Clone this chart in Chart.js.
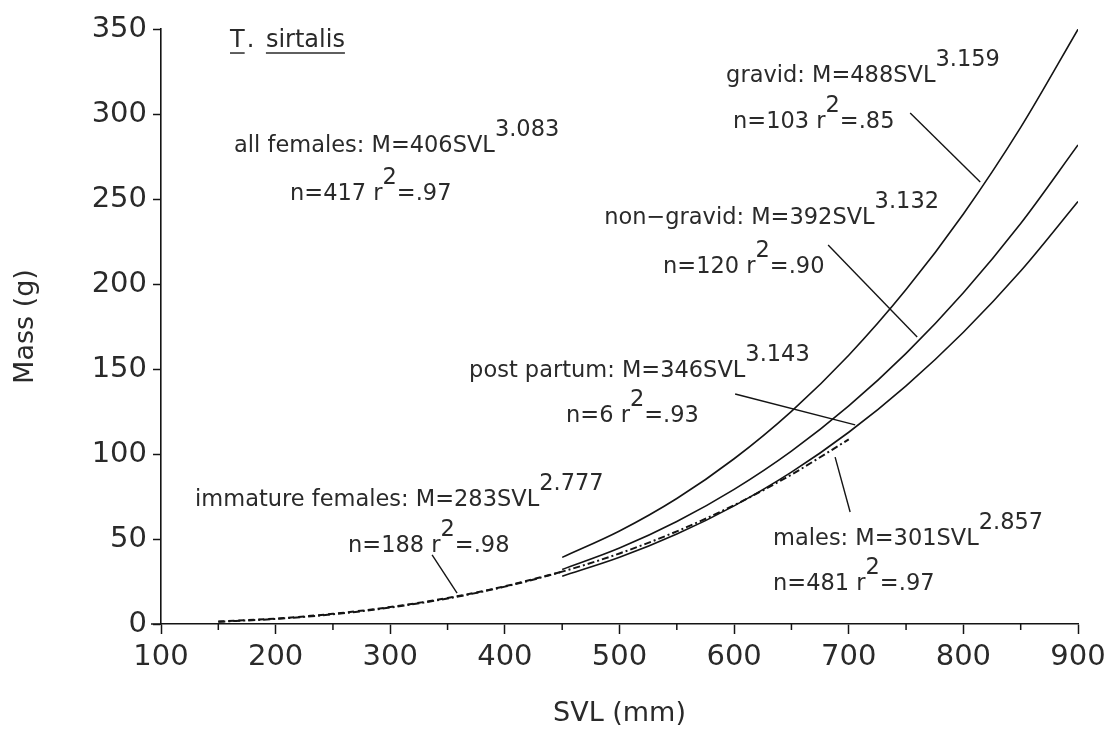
<!DOCTYPE html>
<html>
<head>
<meta charset="utf-8">
<script src="https://cdn.jsdelivr.net/npm/chart.js@4.4.1/dist/chart.umd.min.js"></script>
<style>
  html, body { margin: 0; padding: 0; background: #ffffff; }
  #wrap { width: 1114px; height: 736px; }
</style>
</head>
<body>
<div id="wrap"><canvas id="c" width="1114" height="736"></canvas></div>
<script>
// ---- data (SVL in mm, mass in g) ----
const gravidSVL   = [450, 500, 550, 600, 650, 700, 750, 800, 850, 900];
const gravidMass  = [39.2, 54.7, 73.8, 97.2, 125.1, 158.1, 196.7, 241.2, 292.1, 349.8];

const nonGravidSVL  = [450, 500, 550, 600, 650, 700, 750, 800, 850, 900];
const nonGravidMass = [32.1, 44.7, 60.3, 79.2, 101.7, 128.3, 159.2, 194.9, 235.6, 281.8];

const postPartumSVL  = [450, 500, 550, 600, 650, 700, 750, 800, 850, 900];
const postPartumMass = [28.1, 39.2, 52.9, 69.5, 89.3, 112.8, 140.1, 171.6, 207.6, 248.5];

const malesSVL  = [150, 200, 250, 300, 350, 400, 450, 500, 550, 600, 650, 700];
const malesMass = [1.3, 3.0, 5.7, 9.7, 15.0, 22.0, 30.8, 41.5, 54.5, 69.9, 87.9, 108.6];

const immatureSVL  = [150, 200, 250, 300, 350, 400, 450];
const immatureMass = [1.5, 3.2, 6.0, 10.0, 15.3, 22.2, 30.8];

const xTickValues = [100, 200, 300, 400, 500, 600, 700, 800, 900];
const xMinorTicks = [150, 250, 350, 450, 550, 650, 750, 850];
const yTickValues = [0, 50, 100, 150, 200, 250, 300, 350];

// annotation texts: [main, superscript, tail] with anchor in data units
const labelLines = [
  { x: 163.7, y: 277.6, parts: ["all females: M=406SVL", "3.083", ""] },
  { x: 212.6, y: 249.4, parts: ["n=417 r", "2", "=.97"] },
  { x: 593.0, y: 318.8, parts: ["gravid: M=488SVL", "3.159", ""] },
  { x: 599.1, y: 291.8, parts: ["n=103 r", "2", "=.85"] },
  { x: 486.6, y: 235.3, parts: ["non\u2212gravid: M=392SVL", "3.132", ""] },
  { x: 538.0, y: 206.5, parts: ["n=120 r", "2", "=.90"] },
  { x: 368.8, y: 145.3, parts: ["post partum: M=346SVL", "3.143", ""] },
  { x: 453.4, y: 118.8, parts: ["n=6 r", "2", "=.93"] },
  { x: 129.7, y: 69.4,  parts: ["immature females: M=283SVL", "2.777", ""] },
  { x: 263.2, y: 42.4,  parts: ["n=188 r", "2", "=.98"] },
  { x: 634.0, y: 46.5,  parts: ["males: M=301SVL", "2.857", ""] },
  { x: 634.0, y: 20.0,  parts: ["n=481 r", "2", "=.97"] }
];
const leaderLines = [
  [753.6, 300.6, 814.7, 260.0],
  [682.0, 222.9, 759.7, 168.8],
  [600.9, 135.3, 705.6, 117.1],
  [688.1, 98.2, 701.2, 65.9],
  [336.5, 40.6, 358.3, 18.2]
];
const titleGenus = "T";
const titleSpecies = "sirtalis";
const titleAnchor = { x: 160.2, y: 339.4 };

// ---- chart ----
const FONT = '"DejaVu Sans", "Liberation Sans", sans-serif';
const INK = '#141414';
const TEXT = '#2a2a2a';

function pts(xs, ys) { return xs.map((x, i) => ({ x: x, y: ys[i] })); }

const annotationPlugin = {
  id: 'annot',
  afterDatasetsDraw(chart) {
    const ctx = chart.ctx;
    const xs = chart.scales.x, ys = chart.scales.y;
    ctx.save();
    // minor x ticks
    ctx.strokeStyle = INK; ctx.lineWidth = 1.5;
    const base = ys.getPixelForValue(0);
    xMinorTicks.forEach(v => {
      const px = xs.getPixelForValue(v);
      ctx.beginPath(); ctx.moveTo(px, base); ctx.lineTo(px, base + 6); ctx.stroke();
    });
    // small extension of the x axis left of the y axis
    ctx.beginPath(); ctx.moveTo(xs.left - 10, base); ctx.lineTo(xs.left, base); ctx.stroke();

    // leader lines
    ctx.lineWidth = 1.4;
    leaderLines.forEach(l => {
      ctx.beginPath();
      ctx.moveTo(xs.getPixelForValue(l[0]), ys.getPixelForValue(l[1]));
      ctx.lineTo(xs.getPixelForValue(l[2]), ys.getPixelForValue(l[3]));
      ctx.stroke();
    });

    // labels
    ctx.fillStyle = TEXT;
    ctx.textBaseline = 'alphabetic';
    ctx.textAlign = 'left';
    ctx.font = '22.5px ' + FONT;
    labelLines.forEach(L => {
      let px = xs.getPixelForValue(L.x);
      const py = ys.getPixelForValue(L.y);
      ctx.fillText(L.parts[0], px, py);
      px += ctx.measureText(L.parts[0]).width;
      if (L.parts[1]) {
        ctx.fillText(L.parts[1], px, py - 16);
        px += ctx.measureText(L.parts[1]).width;
      }
      if (L.parts[2]) ctx.fillText(L.parts[2], px, py);
    });

    // title with underlines
    ctx.font = '24px ' + FONT;
    let tx = xs.getPixelForValue(titleAnchor.x);
    const ty = ys.getPixelForValue(titleAnchor.y);
    ctx.strokeStyle = TEXT; ctx.lineWidth = 1.5;
    const wT = ctx.measureText(titleGenus).width;
    ctx.fillText(titleGenus, tx, ty);
    ctx.beginPath(); ctx.moveTo(tx, ty + 6); ctx.lineTo(tx + wT, ty + 6); ctx.stroke();
    tx += wT;
    ctx.fillText('.', tx + 2, ty);
    tx += ctx.measureText('. ').width + 6;
    const wS = ctx.measureText(titleSpecies).width;
    ctx.fillText(titleSpecies, tx, ty);
    ctx.beginPath(); ctx.moveTo(tx, ty + 6); ctx.lineTo(tx + wS, ty + 6); ctx.stroke();
    ctx.restore();
  }
};

const solid = { borderColor: INK, borderWidth: 1.6, pointRadius: 0, fill: false, cubicInterpolationMode: 'monotone' };

new Chart(document.getElementById('c'), {
  type: 'line',
  data: {
    datasets: [
      Object.assign({ label: 'gravid', data: pts(gravidSVL, gravidMass) }, solid),
      Object.assign({ label: 'non-gravid', data: pts(nonGravidSVL, nonGravidMass) }, solid),
      Object.assign({ label: 'post partum', data: pts(postPartumSVL, postPartumMass) }, solid),
      Object.assign({ label: 'males', data: pts(malesSVL, malesMass) }, solid, { borderDash: [7, 3, 2, 3], borderWidth: 2 }),
      Object.assign({ label: 'immature females', data: pts(immatureSVL, immatureMass) }, solid, { borderDash: [6, 4], borderWidth: 2 })
    ]
  },
  options: {
    responsive: false,
    animation: false,
    devicePixelRatio: 1,
    layout: { padding: { top: 29, right: 36, left: 0, bottom: 0 } },
    plugins: { legend: { display: false }, tooltip: { enabled: false } },
    scales: {
      x: {
        type: 'linear', min: 100, max: 900,
        afterFit(s) { s.height = 112; },
        afterBuildTicks(s) { s.ticks = xTickValues.map(v => ({ value: v })); },
        ticks: { font: { family: FONT, size: 29 }, color: TEXT, padding: 6, maxRotation: 0 },
        grid: { display: true, drawOnChartArea: false, drawTicks: true, tickLength: 10, tickColor: INK, tickWidth: 1.5 },
        border: { display: true, color: INK, width: 1.6 },
        title: { display: true, text: 'SVL (mm)', font: { family: FONT, size: 27 }, color: TEXT, padding: { top: 0, bottom: 6 } }
      },
      y: {
        type: 'linear', min: 0, max: 350,
        afterFit(s) { s.width = 161; },
        afterBuildTicks(s) { s.ticks = yTickValues.map(v => ({ value: v })); },
        ticks: { font: { family: FONT, size: 29 }, color: TEXT, padding: 6 },
        grid: { display: true, drawOnChartArea: false, drawTicks: true, tickLength: 8, tickColor: INK, tickWidth: 1.5 },
        border: { display: true, color: INK, width: 1.6 },
        title: { display: true, text: 'Mass (g)', font: { family: FONT, size: 27 }, color: TEXT, padding: { top: 10, bottom: 0 } }
      }
    }
  },
  plugins: [annotationPlugin]
});
</script>
</body>
</html>
